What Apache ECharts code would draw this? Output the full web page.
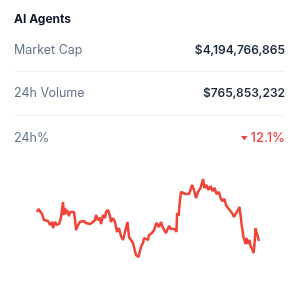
<!DOCTYPE html>
<html><head><meta charset="utf-8">
<script src="https://cdn.jsdelivr.net/npm/echarts@6/dist/echarts.min.js"></script>
<style>html,body{margin:0;padding:0;background:#fff}#c{width:300px;height:284px}</style>
</head><body><div id="c"></div>
<script>
const title = 'AI Agents';
const rowLabels = ['Market Cap', '24h Volume', '24h%'];
const rowValues = ['$4,194,766,865', '$765,853,232', '12.1%'];
// sparkline: hours since start, index value
const hours = [0,0.16,0.32,0.54,0.76,0.97,1.19,1.41,1.62,1.73,1.95,2.16,2.38,2.59,2.70,2.81,2.92,3.03,3.14,3.24,3.46,3.57,3.78,4.00,4.11,4.22,4.43,4.65,4.86,5.08,5.30,5.51,5.73,5.84,6.05,6.27,6.38,6.59,6.81,6.92,7.14,7.35,7.46,7.68,7.89,8.00,8.22,8.43,8.65,8.86,9.08,9.30,9.51,9.78,9.95,10.38,10.70,10.97,11.24,11.46,11.57,11.78,12.00,12.11,12.43,12.65,12.92,13.19,13.41,13.57,13.73,13.95,14.11,14.27,14.49,14.65,14.92,15.08,15.14,15.30,15.46,15.57,15.78,16.05,16.22,16.43,16.59,16.76,16.97,17.19,17.41,17.68,17.95,18.11,18.32,18.54,18.76,18.97,19.19,19.41,19.68,19.84,20.05,20.27,20.43,20.65,20.86,21.08,21.30,21.46,21.68,21.89,22.00,22.16,22.32,22.54,22.65,22.81,22.97,23.08,23.30,23.41,23.51,23.62,23.73,23.89,24.0];
const values = [88,91,89,86,80,78,79,75,78,72,78,75,76,82,80,98,85,92,86,90,84,88,90,88,80,70,75,78,76,79,77,78,76,74,78,80,85,80,82,76,85,82,88,90,84,78,82,78,68,72,64,60,59,78,63,57,45,43,53,57,62,63,60,65,67,70,77,73,78,73,74,67,68,74,71,70,71,68,87,84,100,108,107,106,108,106,110,115,110,102,108,112,121,112,115,110,114,109,112,106,108,102,99,101,95,92,90,87,83,86,89,93,85,73,63,56,62,56,60,54,50,47,55,72,68,66,59];

const font = 'Inter, "Noto Sans", sans-serif';
const rowY = [50, 93, 138];
const dividerY = [71, 115];

const graphics = [
  {type:'text', x:14, y:19, style:{text:title, font:'bold 12px ' + font, fill:'#0f172a', verticalAlign:'middle'}}
];
rowLabels.forEach((l, i) => {
  graphics.push({type:'text', x:14, y:rowY[i], style:{text:l, font:'12.5px ' + font, fill:'#64748b', verticalAlign:'middle'}});
});
rowValues.forEach((v, i) => {
  if (i < 2) {
    graphics.push({type:'text', x:285, y:rowY[i], style:{text:v, font:'600 12px ' + font, fill:'#1e293b', align:'right', verticalAlign:'middle'}});
  } else {
    graphics.push({type:'text', x:285, y:rowY[i], style:{text:v, font:'500 13px ' + font, fill:'#ef4444', align:'right', verticalAlign:'middle'}});
    graphics.push({type:'polygon', shape:{points:[[241,136],[247.5,136],[244.25,140.5]]}, style:{fill:'#ef4444'}});
  }
});
dividerY.forEach(y => {
  graphics.push({type:'line', shape:{x1:14, y1:y + 0.5, x2:285, y2:y + 0.5}, style:{stroke:'#f1f2f4', lineWidth:1}});
});

const chart = echarts.init(document.getElementById('c'), null, {renderer:'canvas'});
chart.setOption({
  animation:false,
  grid:{left:37, right:41, top:179, bottom:27},
  xAxis:{type:'value', min:0, max:24, show:false},
  yAxis:{type:'value', min:43, max:121, show:false},
  series:[{type:'line', data:hours.map((h, i) => [h, values[i]]), showSymbol:false, lineStyle:{color:'#ef4437', width:2.5}, silent:true}],
  graphic:graphics
});
</script></body></html>
